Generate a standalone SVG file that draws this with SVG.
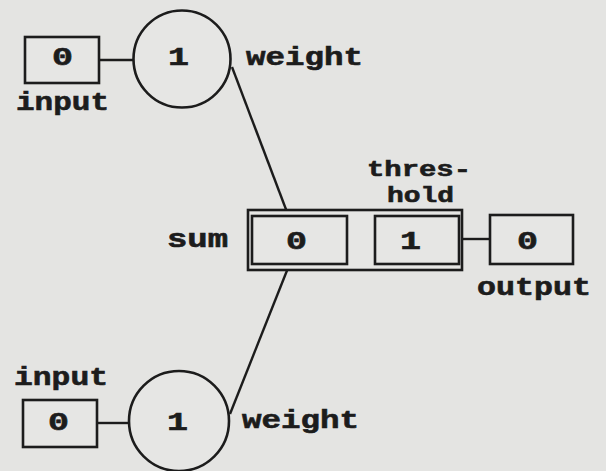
<svg xmlns="http://www.w3.org/2000/svg" width="606" height="471" viewBox="0 0 606 471">
<style>
.bg{fill:#e4e4e2}
.sh{fill:#e6e6e4;stroke:#1c1c1c;stroke-width:2.6}
.ln{stroke:#1c1c1c;stroke-width:2.4;fill:none}
.t{font-family:"Liberation Mono","DejaVu Sans Mono",monospace;font-weight:bold;font-size:25px;fill:#1c1c1c;stroke:#1c1c1c;stroke-width:0.6}
.s{font-size:22px}
</style>
<rect class="bg" x="0" y="0" width="606" height="471"/>
<g id="connectors">
<line class="ln" x1="99" y1="60" x2="133" y2="60"/>
<line class="ln" x1="232" y1="67" x2="287" y2="212"/>
<line class="ln" x1="347" y1="239" x2="375" y2="239"/>
<line class="ln" x1="459" y1="239" x2="490" y2="239"/>
<line class="ln" x1="97" y1="423" x2="129" y2="423"/>
<line class="ln" x1="230" y1="414" x2="288" y2="268"/>
</g>
<g id="input1">
<rect class="sh" x="25" y="37" width="74" height="46"/>
<text class="t" x="52" y="65" textLength="21" lengthAdjust="spacingAndGlyphs">0</text>
<text class="t" x="16" y="110" textLength="93" lengthAdjust="spacingAndGlyphs">input</text>
</g>
<g id="weight1">
<circle class="sh" cx="182" cy="59" r="48.5"/>
<text class="t" x="168" y="65" textLength="21" lengthAdjust="spacingAndGlyphs">1</text>
<text class="t" x="246" y="65" textLength="117" lengthAdjust="spacingAndGlyphs">weight</text>
</g>
<g id="neuron">
<rect class="sh" x="248" y="210" width="214" height="60"/>
<text class="t" x="167" y="247" textLength="61" lengthAdjust="spacingAndGlyphs">sum</text>
<text class="t s" x="367" y="176" textLength="104" lengthAdjust="spacingAndGlyphs">thres-</text>
<text class="t s" x="387" y="202" textLength="67" lengthAdjust="spacingAndGlyphs">hold</text>
</g>
<g id="sum">
<rect class="sh" x="252" y="216" width="95" height="48"/>
<text class="t" x="286" y="249" textLength="21" lengthAdjust="spacingAndGlyphs">0</text>
</g>
<g id="threshold">
<rect class="sh" x="375" y="216" width="84" height="48"/>
<text class="t" x="400" y="249" textLength="21" lengthAdjust="spacingAndGlyphs">1</text>
</g>
<g id="output">
<rect class="sh" x="490" y="215" width="83" height="49"/>
<text class="t" x="517" y="249" textLength="21" lengthAdjust="spacingAndGlyphs">0</text>
<text class="t" x="477" y="295" textLength="114" lengthAdjust="spacingAndGlyphs">output</text>
</g>
<g id="input2">
<rect class="sh" x="23" y="400" width="74" height="47"/>
<text class="t" x="48" y="430" textLength="21" lengthAdjust="spacingAndGlyphs">0</text>
<text class="t" x="14" y="385" textLength="94" lengthAdjust="spacingAndGlyphs">input</text>
</g>
<g id="weight2">
<circle class="sh" cx="179" cy="421" r="50"/>
<text class="t" x="167" y="430" textLength="21" lengthAdjust="spacingAndGlyphs">1</text>
<text class="t" x="242" y="428" textLength="117" lengthAdjust="spacingAndGlyphs">weight</text>
</g>
</svg>
